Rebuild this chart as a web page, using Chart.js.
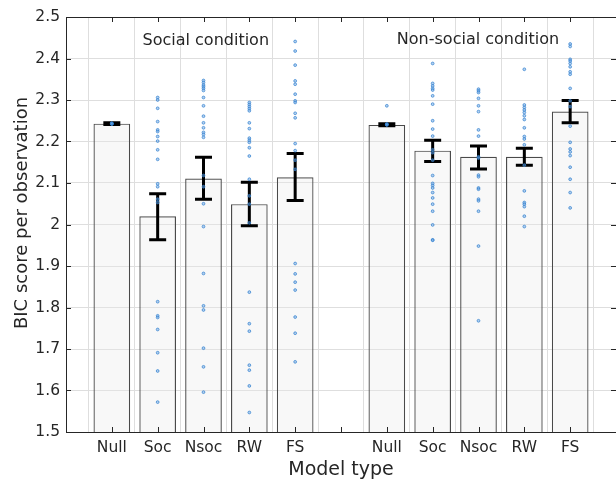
<!DOCTYPE html>
<html>
<head>
<meta charset="utf-8">
<script src="https://cdn.jsdelivr.net/npm/chart.js@4.4.0/dist/chart.umd.min.js"></script>
<style>
  html, body { margin: 0; padding: 0; background: #fff; }
  #wrap { width: 616px; height: 481px; position: relative; }
</style>
</head>
<body>
<div id="wrap"><canvas id="c"></canvas></div>
<script>
// x positions 0..12, labels on 1..5 and 7..11
const tickLabels = ['', 'Null', 'Soc', 'Nsoc', 'RW', 'FS', '', 'Null', 'Soc', 'Nsoc', 'RW', 'FS', ''];
const barPos   = [1, 2, 3, 4, 5, 7, 8, 9, 10, 11];
const barMeans = [2.243, 2.020, 2.111, 2.049, 2.114, 2.240, 2.178, 2.163, 2.163, 2.272];
const errLow   = [2.241, 1.963, 2.061, 1.997, 2.058, 2.238, 2.152, 2.134, 2.143, 2.245];
const errHigh  = [2.245, 2.074, 2.162, 2.102, 2.171, 2.243, 2.203, 2.189, 2.184, 2.299];

// per-subject scores, social condition
const socNull = [2.243, 2.243, 2.242, 2.244, 2.243];
const socSoc  = [2.306, 2.300, 2.280, 2.248, 2.228, 2.224, 2.212, 2.201, 2.180, 2.157, 2.098, 2.091,
                 2.061, 2.053, 1.814, 1.780, 1.776, 1.747, 1.691, 1.647, 1.572];
const socNsoc = [2.347, 2.342, 2.336, 2.332, 2.328, 2.323, 2.306, 2.286, 2.261, 2.245, 2.233, 2.222,
                 2.217, 2.210, 2.118, 2.091, 2.050, 1.995, 1.882, 1.804, 1.794, 1.702, 1.657, 1.596];
const socRW   = [2.294, 2.289, 2.284, 2.279, 2.274, 2.245, 2.231, 2.208, 2.203, 2.198, 2.185, 2.165,
                 2.109, 2.069, 2.049, 2.004, 1.837, 1.761, 1.743, 1.661, 1.649, 1.611, 1.547];
const socFS   = [2.441, 2.418, 2.384, 2.346, 2.338, 2.314, 2.298, 2.294, 2.268, 2.257, 2.195, 2.178,
                 2.155, 2.133, 1.906, 1.881, 1.861, 1.842, 1.777, 1.738, 1.669];
// non-social condition
const nsNull  = [2.241, 2.240, 2.242, 2.241, 2.286];
const nsSoc   = [2.388, 2.340, 2.334, 2.328, 2.324, 2.310, 2.290, 2.250, 2.230, 2.213, 2.180, 2.173,
                 2.155, 2.118, 2.099, 2.094, 2.088, 2.077, 2.064, 2.049, 2.032, 1.999, 1.963, 1.962];
const nsNsoc  = [2.326, 2.322, 2.318, 2.304, 2.286, 2.272, 2.228, 2.213, 2.163, 2.160, 2.119, 2.115,
                 2.088, 2.085, 2.061, 2.057, 2.032, 1.948, 1.768];
const nsRW    = [2.374, 2.288, 2.282, 2.276, 2.270, 2.262, 2.253, 2.233, 2.212, 2.206, 2.192, 2.143,
                 2.081, 2.053, 2.049, 2.043, 2.020, 1.995];
const nsFS    = [2.435, 2.429, 2.398, 2.394, 2.388, 2.380, 2.368, 2.362, 2.328, 2.298, 2.284, 2.237,
                 2.198, 2.182, 2.175, 2.166, 2.138, 2.109, 2.077, 2.040];

const subjects = [socNull, socSoc, socNsoc, socRW, socFS, nsNull, nsSoc, nsNsoc, nsRW, nsFS];
const condLabels = [{ text: 'Social condition', x: 3.05, y: 2.442 }, { text: 'Non-social condition', x: 8.99, y: 2.446 }];

const TXT = '#262626';
const FONT = "'DejaVu Sans', sans-serif";

const barData = barPos.map((x, i) => ({ x, y: barMeans[i] }));
const dotData = [];
subjects.forEach((arr, i) => arr.forEach(v => dotData.push({ x: barPos[i], y: v })));

const errorBars = {
  id: 'errorBars',
  afterDatasetDraw(chart, args) {
    if (args.index !== 0) return;
    const { ctx, scales: { x, y } } = chart;
    ctx.save();
    ctx.strokeStyle = '#000';
    ctx.lineWidth = 3;
    barPos.forEach((p, i) => {
      const px = x.getPixelForValue(p);
      const lo = y.getPixelForValue(errLow[i]);
      const hi = y.getPixelForValue(errHigh[i]);
      ctx.beginPath();
      ctx.moveTo(px, lo); ctx.lineTo(px, hi);
      ctx.moveTo(px - 8.5, lo); ctx.lineTo(px + 8.5, lo);
      ctx.moveTo(px - 8.5, hi); ctx.lineTo(px + 8.5, hi);
      ctx.stroke();
    });
    ctx.restore();
  }
};

const frame = {
  id: 'frame',
  afterDraw(chart) {
    const { ctx, chartArea: a, scales: { x, y } } = chart;
    ctx.save();
    ctx.strokeStyle = TXT;
    ctx.lineWidth = 1;
    ctx.beginPath();
    ctx.moveTo(a.left + 0.5, a.bottom + 0.5); ctx.lineTo(a.left + 0.5, a.top + 0.5);
    ctx.lineTo(a.right + 0.5, a.top + 0.5);
    ctx.moveTo(a.left, a.bottom + 0.5); ctx.lineTo(a.right, a.bottom + 0.5);
    for (let v = 1; v <= 11; v++) {
      const px = Math.round(x.getPixelForValue(v)) + 0.5;
      ctx.moveTo(px, a.bottom); ctx.lineTo(px, a.bottom - 5);
      ctx.moveTo(px, a.top); ctx.lineTo(px, a.top + 5);
    }
    y.ticks.forEach(t => {
      const py = Math.round(y.getPixelForValue(t.value)) + 0.5;
      ctx.moveTo(a.left, py); ctx.lineTo(a.left + 5, py);
      ctx.moveTo(a.right, py); ctx.lineTo(a.right - 5, py);
    });
    ctx.stroke();
    ctx.fillStyle = TXT;
    ctx.font = '16px ' + FONT;
    ctx.textAlign = 'center';
    ctx.textBaseline = 'middle';
    condLabels.forEach(c => ctx.fillText(c.text, x.getPixelForValue(c.x), y.getPixelForValue(c.y)));
    // y axis title
    ctx.font = '18px ' + FONT;
    ctx.translate(22, 213);
    ctx.rotate(-Math.PI / 2);
    ctx.fillText('BIC score per observation', 0, 0);
    ctx.restore();
  }
};

new Chart(document.getElementById('c'), {
  type: 'bar',
  data: {
    datasets: [
      { type: 'bar', data: barData, order: 2,
        backgroundColor: 'rgba(235,235,235,0.35)', borderColor: '#4a4a4a', borderWidth: 1.2,
        barPercentage: 0.8, categoryPercentage: 1 },
      { type: 'scatter', data: dotData, order: 1,
        pointRadius: 1.4, pointBorderWidth: 0.7,
        borderColor: '#2f7fd0', backgroundColor: 'rgba(110,165,225,0.5)' }
    ]
  },
  options: {
    responsive: true, maintainAspectRatio: false, animation: false,
    layout: { autoPadding: false, padding: { top: 17, right: 0, left: 0, bottom: 0 } },
    plugins: { legend: { display: false }, tooltip: { enabled: false } },
    scales: {
      x: {
        type: 'linear', min: 0, max: 12, offset: false,
        grid: { color: '#dedede', drawTicks: false },
        border: { display: false },
        ticks: { stepSize: 1, autoSkip: false, maxRotation: 0, padding: 7,
                 color: TXT, font: { family: FONT, size: 15.5 },
                 callback: v => tickLabels[v] ?? '' },
        title: { display: true, text: 'Model type', color: TXT,
                 font: { family: FONT, size: 19 }, padding: { top: 0, bottom: 0 } },
        afterFit: s => { s.height = 49; s.paddingLeft = 0; s.paddingRight = 0; }
      },
      y: {
        min: 1.5, max: 2.5,
        grid: { color: '#dedede', drawTicks: false },
        border: { display: false },
        ticks: { stepSize: 0.1, padding: 6, color: TXT, font: { family: FONT, size: 15.5 },
                 callback: v => String(Number(v.toFixed(1))) },
        afterFit: s => { s.width = 66; }
      }
    }
  },
  plugins: [errorBars, frame]
});
</script>
</body>
</html>
